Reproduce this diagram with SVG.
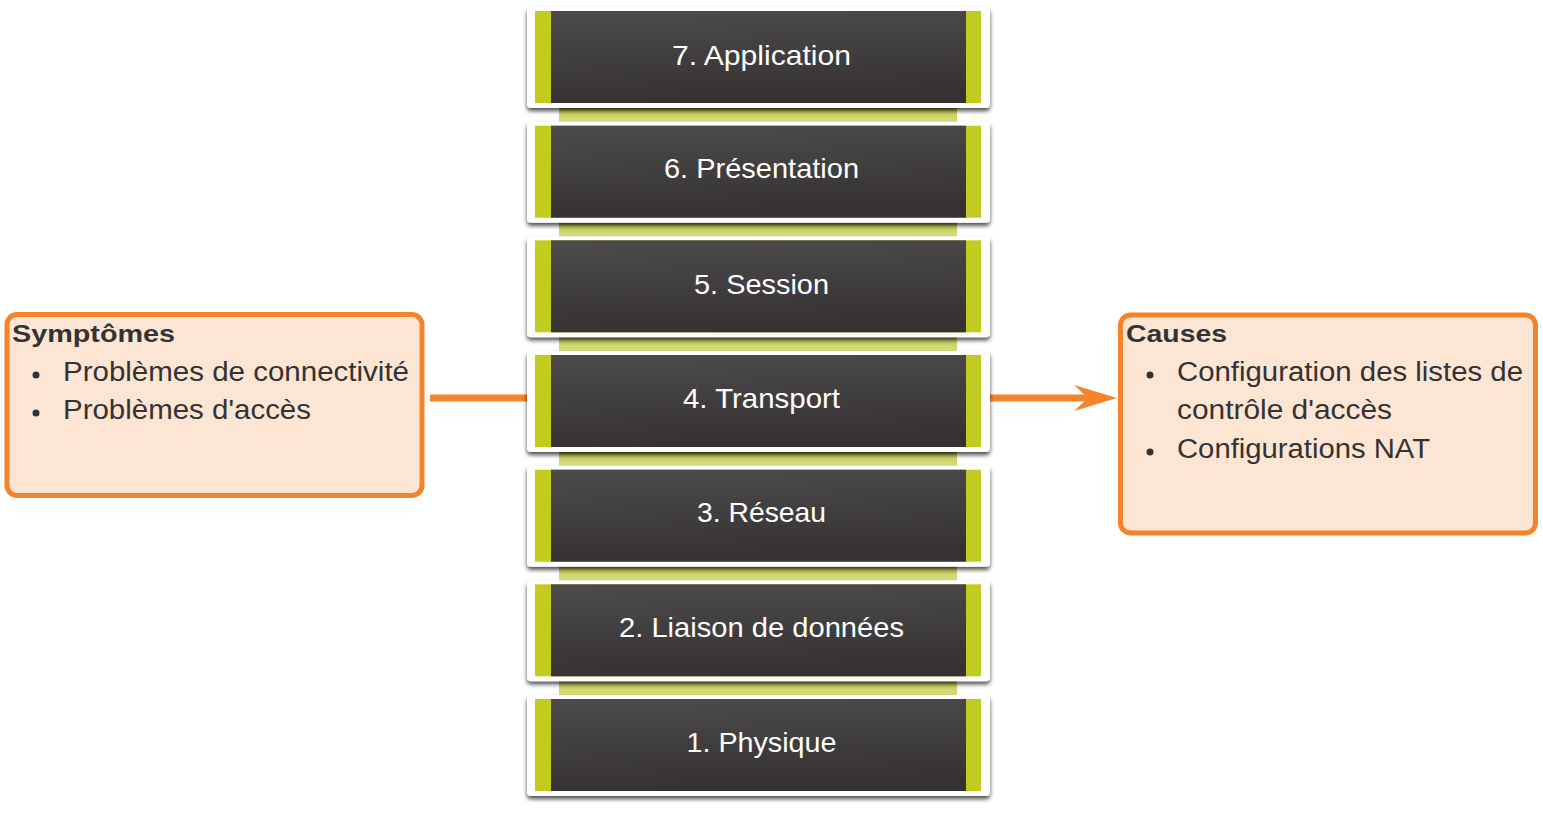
<svg xmlns="http://www.w3.org/2000/svg" width="1543" height="819" viewBox="0 0 1543 819">
<defs>
<linearGradient id="dark" x1="0" y1="0" x2="0.15" y2="1">
<stop offset="0" stop-color="#4d4b4c"/>
<stop offset="1" stop-color="#363233"/>
</linearGradient>
<linearGradient id="strip" x1="0" y1="0" x2="0" y2="1">
<stop offset="0" stop-color="#6f7320"/>
<stop offset="0.3" stop-color="#c5cd5a"/>
<stop offset="1" stop-color="#dbe28a"/>
</linearGradient>
<filter id="sh" x="-5%" y="-10%" width="110%" height="130%">
<feDropShadow dx="0" dy="3" stdDeviation="2" flood-color="#000" flood-opacity="0.7"/>
</filter>
</defs>
<style>
.frame{fill:#ffffff;filter:url(#sh)}
.green{fill:#c2cc20}
.dark{fill:url(#dark)}
.strip{fill:url(#strip)}
.lt{font-family:"Liberation Sans",Arial,sans-serif;font-size:28px;fill:#ffffff;text-anchor:middle}
.box{fill:#fde5d4;stroke:#f5832a;stroke-width:5}
.hd{font-family:"Liberation Sans",Arial,sans-serif;font-size:24px;font-weight:bold;fill:#333333}
.bt{font-family:"Liberation Sans",Arial,sans-serif;font-size:27px;fill:#333333}
.dot{fill:#333333}
.conn{stroke:#f5832a;stroke-width:7;fill:none}
</style>
<g id="strips">
<rect class="strip" x="559" y="106" width="398" height="18"/>
<rect class="strip" x="559" y="221" width="398" height="18"/>
<rect class="strip" x="559" y="335" width="398" height="18"/>
<rect class="strip" x="559" y="450" width="398" height="18"/>
<rect class="strip" x="559" y="564" width="398" height="18"/>
<rect class="strip" x="559" y="679" width="398" height="18"/>
</g>
<g id="connectors">
<line class="conn" x1="430" y1="398" x2="527" y2="398"/>
<line class="conn" x1="990" y1="398" x2="1088" y2="398"/>
<path d="M1117,398 L1074,385 L1088,398 L1074,411 Z" fill="#f5832a"/>
</g>
<g id="layer7">
<rect class="frame" x="527" y="7" width="463" height="101" rx="4"/>
<rect class="green" x="535" y="11" width="446" height="92"/>
<rect class="dark" x="551" y="11" width="415" height="92"/>
<text class="lt" x="761.5" y="65" textLength="179" lengthAdjust="spacingAndGlyphs">7. Application</text>
</g>
<g id="layer6">
<rect class="frame" x="527" y="121.7" width="463" height="101" rx="4"/>
<rect class="green" x="535" y="125.7" width="446" height="92"/>
<rect class="dark" x="551" y="125.7" width="415" height="92"/>
<text class="lt" x="761.5" y="177.5" textLength="195" lengthAdjust="spacingAndGlyphs">6. Présentation</text>
</g>
<g id="layer5">
<rect class="frame" x="527" y="236.3" width="463" height="101" rx="4"/>
<rect class="green" x="535" y="240.3" width="446" height="92"/>
<rect class="dark" x="551" y="240.3" width="415" height="92"/>
<text class="lt" x="761.5" y="294" textLength="135" lengthAdjust="spacingAndGlyphs">5. Session</text>
</g>
<g id="layer4">
<rect class="frame" x="527" y="351" width="463" height="101" rx="4"/>
<rect class="green" x="535" y="355" width="446" height="92"/>
<rect class="dark" x="551" y="355" width="415" height="92"/>
<text class="lt" x="761.5" y="407.5" textLength="157" lengthAdjust="spacingAndGlyphs">4. Transport</text>
</g>
<g id="layer3">
<rect class="frame" x="527" y="465.7" width="463" height="101" rx="4"/>
<rect class="green" x="535" y="469.7" width="446" height="92"/>
<rect class="dark" x="551" y="469.7" width="415" height="92"/>
<text class="lt" x="761.5" y="521.5" textLength="129" lengthAdjust="spacingAndGlyphs">3. Réseau</text>
</g>
<g id="layer2">
<rect class="frame" x="527" y="580.3" width="463" height="101" rx="4"/>
<rect class="green" x="535" y="584.3" width="446" height="92"/>
<rect class="dark" x="551" y="584.3" width="415" height="92"/>
<text class="lt" x="761.5" y="636.5" textLength="285" lengthAdjust="spacingAndGlyphs">2. Liaison de données</text>
</g>
<g id="layer1">
<rect class="frame" x="527" y="695" width="463" height="101" rx="4"/>
<rect class="green" x="535" y="699" width="446" height="92"/>
<rect class="dark" x="551" y="699" width="415" height="92"/>
<text class="lt" x="761.5" y="751.5" textLength="150" lengthAdjust="spacingAndGlyphs">1. Physique</text>
</g>
<g id="symptomes">
<rect class="box" x="7" y="314.5" width="415" height="181" rx="10"/>
<text class="hd" x="12" y="342" textLength="163" lengthAdjust="spacingAndGlyphs">Symptômes</text>
<circle class="dot" cx="36" cy="375" r="3.5"/>
<text class="bt" x="63" y="381" textLength="346" lengthAdjust="spacingAndGlyphs">Problèmes de connectivité</text>
<circle class="dot" cx="36" cy="413" r="3.5"/>
<text class="bt" x="63" y="419" textLength="248" lengthAdjust="spacingAndGlyphs">Problèmes d'accès</text>
</g>
<g id="causes">
<rect class="box" x="1120.5" y="315" width="415" height="218" rx="10"/>
<text class="hd" x="1126" y="342" textLength="101" lengthAdjust="spacingAndGlyphs">Causes</text>
<circle class="dot" cx="1150" cy="375" r="3.5"/>
<text class="bt" x="1177" y="381" textLength="346" lengthAdjust="spacingAndGlyphs">Configuration des listes de</text>
<text class="bt" x="1177" y="419" textLength="215" lengthAdjust="spacingAndGlyphs">contrôle d'accès</text>
<circle class="dot" cx="1150" cy="452" r="3.5"/>
<text class="bt" x="1177" y="458" textLength="253" lengthAdjust="spacingAndGlyphs">Configurations NAT</text>
</g>
</svg>
